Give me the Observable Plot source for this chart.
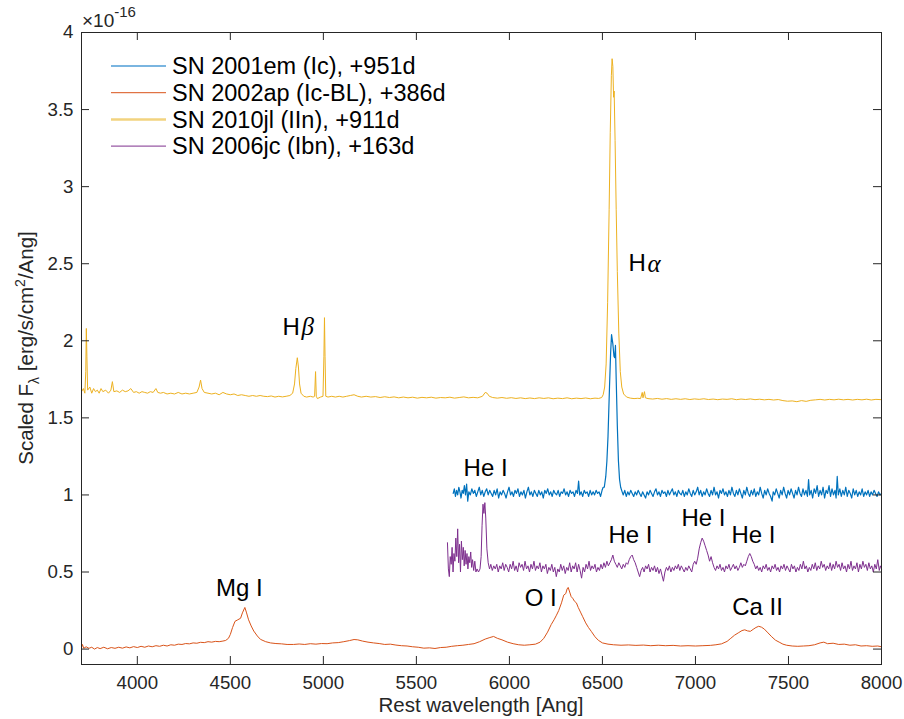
<!DOCTYPE html>
<html><head><meta charset="utf-8">
<script src="https://cdn.jsdelivr.net/npm/d3@7"></script>
<script src="https://cdn.jsdelivr.net/npm/@observablehq/plot@0.6"></script>
<style>body{margin:0;background:#fff;}#chart{width:904px;height:719px;}</style>
</head><body><div id="chart"></div>
<script>
// ---------- data ----------
const xTicks = [4000, 4500, 5000, 5500, 6000, 6500, 7000, 7500, 8000];
const yTicks = [0, 0.5, 1, 1.5, 2, 2.5, 3, 3.5, 4];
const seriesNames = ["SN 2001em (Ic), +951d", "SN 2002ap (Ic-BL), +386d", "SN 2010jl (IIn), +911d", "SN 2006jc (Ibn), +163d"];
const seriesColors = ["#0072BD", "#D95319", "#EDB120", "#7E2F8E"];

// SN 2001em (Ic), +951d  [wavelength, scaled flux]
const sn2001em = [[5698,1.01],[5704,1.04],[5710,0.99],[5716,1.03],[5722,1.0],[5728,1.05],[5734,1.02],[5740,0.98],[5746,1.03],[5752,1.01],[5758,1.06],[5764,1.0],[5770,1.07],[5776,0.96],[5782,1.02],[5790,1.0],[5798,1.04],[5806,1.01],[5814,1.03],[5822,0.99],[5830,1.02],[5838,1.05],[5846,1.0],[5854,1.03],[5862,0.99],[5870,1.02],[5878,1.04],[5886,1.0],[5894,1.03],[5902,1.01],[5910,0.99],[5918,1.03],[5926,1.0],[5934,1.04],[5942,0.98],[5950,1.02],[5958,1.0],[5966,1.03],[5974,1.01],[5982,0.98],[5990,1.02],[5998,1.05],[6006,1.0],[6014,1.02],[6022,0.99],[6030,1.03],[6038,1.01],[6046,1.04],[6054,0.99],[6062,1.02],[6070,1.0],[6078,1.03],[6086,0.98],[6094,1.02],[6102,1.05],[6110,1.0],[6118,1.02],[6126,0.99],[6134,1.03],[6142,1.01],[6150,0.99],[6158,1.03],[6166,1.0],[6174,1.02],[6182,0.98],[6190,1.03],[6198,1.01],[6206,1.04],[6214,1.0],[6222,1.02],[6230,0.99],[6238,1.03],[6246,1.01],[6254,1.0],[6262,1.03],[6270,0.99],[6278,1.02],[6286,1.01],[6294,1.04],[6302,1.0],[6310,1.02],[6318,0.99],[6326,1.03],[6334,1.01],[6342,1.02],[6350,0.99],[6358,1.03],[6366,1.01],[6372,1.09],[6378,1.0],[6386,1.02],[6394,0.99],[6402,1.03],[6410,1.01],[6418,1.02],[6426,0.99],[6434,1.03],[6442,1.0],[6450,1.02],[6458,1.0],[6466,1.03],[6474,1.01],[6482,1.02],[6490,0.99],[6498,1.03],[6504,1.05],[6510,1.05],[6518,1.12],[6524,1.22],[6530,1.38],[6538,1.7],[6544,1.92],[6549,2.04],[6556,1.98],[6562,1.9],[6566,1.89],[6570,1.97],[6574,1.75],[6580,1.45],[6586,1.22],[6592,1.1],[6598,1.05],[6606,1.02],[6612,1.0],[6620,1.03],[6628,0.99],[6636,1.02],[6644,1.0],[6652,1.03],[6660,1.01],[6668,0.99],[6676,1.02],[6684,1.0],[6692,1.03],[6700,1.01],[6708,0.99],[6716,1.02],[6724,1.0],[6732,0.98],[6740,1.02],[6748,1.0],[6756,1.03],[6764,1.01],[6772,0.99],[6780,1.02],[6788,1.04],[6796,1.0],[6804,1.02],[6812,0.99],[6820,1.03],[6828,1.01],[6836,1.02],[6844,0.99],[6852,1.03],[6860,1.0],[6868,1.02],[6876,1.04],[6884,1.0],[6892,1.02],[6900,0.99],[6908,1.03],[6916,1.01],[6924,1.0],[6932,1.03],[6940,0.99],[6948,1.02],[6956,1.0],[6964,1.04],[6972,1.01],[6980,0.99],[6988,1.03],[6996,1.0],[7004,1.02],[7012,1.05],[7020,1.0],[7028,1.03],[7036,0.99],[7044,1.02],[7052,1.0],[7060,1.04],[7068,1.01],[7076,0.99],[7084,1.03],[7092,1.0],[7100,1.05],[7108,1.0],[7116,1.02],[7124,0.98],[7132,1.03],[7140,1.01],[7148,1.04],[7156,1.0],[7164,1.02],[7172,0.99],[7180,1.03],[7188,1.0],[7196,1.05],[7204,1.01],[7212,0.99],[7220,1.03],[7228,1.0],[7236,1.04],[7244,1.01],[7252,0.98],[7260,1.03],[7268,1.0],[7276,1.05],[7284,1.01],[7292,0.99],[7300,1.03],[7308,1.0],[7316,1.04],[7324,0.99],[7332,1.02],[7340,1.0],[7348,1.05],[7356,1.01],[7364,0.98],[7372,1.03],[7380,1.0],[7388,1.04],[7396,1.01],[7404,0.99],[7412,0.96],[7418,1.02],[7426,1.0],[7434,1.04],[7442,1.01],[7450,0.98],[7458,1.03],[7466,1.0],[7474,1.05],[7482,1.01],[7490,0.98],[7498,1.03],[7506,1.0],[7514,1.04],[7522,1.01],[7530,0.98],[7538,1.03],[7546,1.0],[7554,1.05],[7562,1.01],[7570,0.99],[7578,1.04],[7586,1.0],[7594,1.03],[7602,0.99],[7608,1.1],[7614,1.0],[7622,1.03],[7630,0.98],[7638,1.04],[7646,1.01],[7654,1.06],[7662,0.99],[7670,1.03],[7678,1.0],[7686,1.05],[7694,0.98],[7702,1.03],[7710,1.01],[7718,1.06],[7726,0.99],[7734,1.04],[7742,1.0],[7750,1.03],[7756,0.98],[7762,1.12],[7768,1.0],[7776,1.04],[7784,0.99],[7792,1.03],[7800,1.0],[7808,1.05],[7816,0.99],[7824,1.03],[7832,1.01],[7840,0.98],[7848,1.04],[7856,1.0],[7864,1.03],[7872,0.99],[7880,1.02],[7888,1.0],[7896,1.04],[7904,0.99],[7912,1.02],[7920,1.0],[7928,1.03],[7936,0.99],[7944,1.02],[7952,1.0],[7960,1.03],[7968,1.01],[7976,0.99],[7984,1.02],[7992,1.0],[8000,1.01]];

// SN 2002ap (Ic-BL), +386d
const sn2002ap = [[3700,0.01],[3705,0.03],[3712,0.005],[3725,0.015],[3740,0.005],[3755,0.012],[3770,0.0],[3785,0.01],[3800,0.003],[3820,0.012],[3840,0.002],[3860,0.01],[3880,0.005],[3900,0.012],[3920,0.006],[3940,0.014],[3960,0.008],[3980,0.016],[4000,0.01],[4020,0.018],[4040,0.012],[4060,0.02],[4080,0.015],[4100,0.022],[4120,0.018],[4140,0.025],[4160,0.02],[4180,0.028],[4200,0.025],[4220,0.032],[4240,0.03],[4260,0.036],[4280,0.034],[4300,0.04],[4320,0.038],[4340,0.044],[4360,0.042],[4380,0.048],[4400,0.045],[4420,0.05],[4440,0.048],[4460,0.052],[4475,0.056],[4490,0.07],[4500,0.095],[4512,0.14],[4525,0.18],[4540,0.19],[4555,0.2],[4565,0.235],[4578,0.27],[4586,0.24],[4598,0.19],[4612,0.15],[4626,0.117],[4645,0.085],[4662,0.063],[4690,0.048],[4716,0.04],[4745,0.036],[4775,0.034],[4805,0.03],[4840,0.03],[4870,0.033],[4900,0.03],[4930,0.035],[4960,0.032],[4990,0.036],[5020,0.035],[5050,0.04],[5080,0.042],[5110,0.048],[5140,0.055],[5165,0.062],[5185,0.06],[5210,0.052],[5240,0.045],[5270,0.04],[5300,0.036],[5330,0.03],[5360,0.032],[5390,0.026],[5420,0.022],[5450,0.02],[5480,0.015],[5510,0.012],[5540,0.006],[5570,0.008],[5600,0.004],[5630,0.01],[5660,0.012],[5690,0.018],[5720,0.022],[5750,0.025],[5780,0.03],[5810,0.035],[5840,0.048],[5870,0.065],[5895,0.075],[5915,0.082],[5935,0.07],[5960,0.06],[5990,0.045],[6020,0.035],[6050,0.028],[6080,0.025],[6110,0.028],[6140,0.032],[6165,0.045],[6185,0.07],[6205,0.11],[6225,0.16],[6240,0.19],[6253,0.22],[6265,0.25],[6280,0.3],[6292,0.35],[6303,0.36],[6310,0.39],[6316,0.4],[6324,0.37],[6332,0.34],[6340,0.33],[6350,0.31],[6360,0.3],[6370,0.27],[6382,0.24],[6394,0.21],[6410,0.17],[6425,0.14],[6440,0.115],[6460,0.08],[6478,0.057],[6500,0.04],[6530,0.032],[6560,0.028],[6600,0.025],[6640,0.027],[6680,0.024],[6720,0.026],[6760,0.022],[6800,0.025],[6840,0.022],[6880,0.024],[6920,0.02],[6960,0.022],[7000,0.02],[7040,0.022],[7080,0.024],[7110,0.028],[7140,0.034],[7170,0.05],[7190,0.07],[7210,0.09],[7230,0.105],[7250,0.12],[7265,0.125],[7280,0.118],[7295,0.115],[7310,0.128],[7325,0.14],[7340,0.148],[7355,0.142],[7370,0.13],[7390,0.105],[7410,0.08],[7430,0.058],[7450,0.045],[7470,0.032],[7490,0.025],[7520,0.02],[7550,0.018],[7580,0.02],[7610,0.022],[7640,0.028],[7670,0.04],[7690,0.045],[7710,0.035],[7740,0.038],[7770,0.03],[7800,0.032],[7830,0.025],[7860,0.028],[7890,0.02],[7920,0.022],[7950,0.018],[7980,0.02],[8000,0.015]];

// SN 2010jl (IIn), +911d
const sn2010jl = [[3700,1.67],[3710,1.69],[3718,1.66],[3723,1.8],[3726,2.08],[3729,1.9],[3733,1.68],[3745,1.7],[3755,1.66],[3765,1.69],[3775,1.67],[3785,1.68],[3795,1.66],[3805,1.69],[3815,1.67],[3830,1.68],[3845,1.66],[3858,1.68],[3866,1.735],[3874,1.67],[3890,1.675],[3905,1.665],[3920,1.68],[3935,1.67],[3950,1.675],[3965,1.69],[3980,1.665],[3995,1.67],[4010,1.66],[4025,1.67],[4040,1.665],[4055,1.66],[4070,1.67],[4085,1.665],[4100,1.69],[4110,1.665],[4125,1.66],[4140,1.665],[4160,1.655],[4180,1.66],[4200,1.655],[4220,1.665],[4240,1.655],[4260,1.66],[4280,1.655],[4300,1.66],[4320,1.665],[4332,1.7],[4340,1.745],[4348,1.69],[4360,1.665],[4380,1.66],[4400,1.655],[4420,1.66],[4440,1.65],[4460,1.665],[4480,1.655],[4500,1.65],[4520,1.655],[4540,1.645],[4560,1.65],[4580,1.645],[4600,1.64],[4620,1.645],[4640,1.64],[4660,1.645],[4680,1.64],[4700,1.638],[4720,1.642],[4740,1.635],[4760,1.64],[4780,1.636],[4800,1.64],[4820,1.645],[4835,1.66],[4845,1.72],[4852,1.82],[4860,1.89],[4866,1.83],[4872,1.72],[4880,1.66],[4895,1.64],[4910,1.635],[4930,1.64],[4945,1.635],[4953,1.64],[4958,1.8],[4962,1.64],[4968,1.625],[4985,1.635],[4998,1.64],[5003,1.9],[5006,2.15],[5009,1.9],[5013,1.64],[5025,1.635],[5045,1.64],[5065,1.635],[5085,1.64],[5105,1.635],[5125,1.64],[5145,1.645],[5165,1.65],[5185,1.64],[5205,1.635],[5230,1.64],[5255,1.635],[5280,1.638],[5305,1.632],[5330,1.637],[5355,1.632],[5380,1.636],[5405,1.63],[5430,1.635],[5455,1.63],[5480,1.634],[5505,1.628],[5530,1.633],[5555,1.63],[5580,1.634],[5605,1.628],[5630,1.632],[5655,1.63],[5680,1.634],[5705,1.628],[5730,1.632],[5755,1.636],[5780,1.63],[5805,1.633],[5830,1.63],[5855,1.64],[5870,1.665],[5880,1.66],[5892,1.64],[5910,1.632],[5935,1.628],[5960,1.632],[5985,1.627],[6010,1.631],[6035,1.626],[6060,1.63],[6085,1.625],[6110,1.629],[6135,1.625],[6160,1.63],[6185,1.626],[6210,1.63],[6235,1.624],[6260,1.628],[6285,1.625],[6310,1.63],[6335,1.624],[6360,1.628],[6385,1.625],[6410,1.629],[6435,1.624],[6460,1.628],[6480,1.626],[6496,1.632],[6504,1.65],[6512,1.7],[6520,1.85],[6528,2.25],[6536,2.85],[6542,3.35],[6548,3.72],[6552,3.83],[6556,3.78],[6560,3.58],[6563,3.62],[6568,3.3],[6574,2.85],[6580,2.45],[6588,2.05],[6596,1.8],[6604,1.7],[6614,1.655],[6630,1.635],[6650,1.628],[6670,1.625],[6690,1.627],[6705,1.625],[6714,1.665],[6718,1.63],[6726,1.67],[6731,1.63],[6745,1.625],[6770,1.622],[6795,1.626],[6820,1.621],[6845,1.625],[6870,1.62],[6895,1.624],[6920,1.62],[6945,1.624],[6970,1.619],[6995,1.623],[7020,1.62],[7045,1.624],[7070,1.619],[7095,1.622],[7120,1.618],[7145,1.622],[7170,1.62],[7195,1.624],[7220,1.618],[7245,1.622],[7270,1.619],[7295,1.623],[7320,1.618],[7345,1.621],[7370,1.617],[7395,1.62],[7420,1.616],[7445,1.619],[7470,1.612],[7495,1.608],[7520,1.61],[7545,1.605],[7570,1.612],[7595,1.607],[7620,1.614],[7645,1.617],[7670,1.62],[7695,1.616],[7720,1.62],[7745,1.617],[7770,1.621],[7795,1.617],[7820,1.62],[7845,1.616],[7870,1.62],[7895,1.617],[7920,1.621],[7945,1.616],[7970,1.62],[8000,1.618]];

// SN 2006jc (Ibn), +163d
const sn2006jc = [[5667,0.69],[5672,0.52],[5677,0.47],[5682,0.6],[5687,0.55],[5692,0.66],[5697,0.5],[5702,0.62],[5707,0.57],[5712,0.72],[5717,0.6],[5722,0.78],[5727,0.56],[5732,0.68],[5737,0.5],[5742,0.7],[5747,0.58],[5752,0.66],[5757,0.54],[5762,0.64],[5767,0.55],[5772,0.62],[5777,0.52],[5782,0.6],[5787,0.56],[5792,0.63],[5797,0.53],[5802,0.58],[5808,0.51],[5814,0.57],[5820,0.5],[5826,0.52],[5834,0.5],[5842,0.52],[5848,0.6],[5853,0.8],[5858,0.94],[5863,0.88],[5868,0.95],[5873,0.85],[5879,0.65],[5886,0.56],[5893,0.52],[5900,0.55],[5908,0.51],[5916,0.54],[5924,0.52],[5932,0.55],[5940,0.5],[5948,0.54],[5956,0.52],[5964,0.56],[5972,0.51],[5980,0.55],[5988,0.53],[5996,0.5],[6004,0.55],[6012,0.52],[6020,0.57],[6028,0.51],[6036,0.54],[6044,0.5],[6052,0.56],[6060,0.53],[6068,0.55],[6076,0.51],[6084,0.57],[6092,0.52],[6100,0.54],[6108,0.5],[6116,0.55],[6124,0.52],[6132,0.57],[6140,0.51],[6148,0.54],[6156,0.52],[6164,0.56],[6172,0.5],[6180,0.54],[6188,0.52],[6196,0.55],[6204,0.49],[6212,0.53],[6220,0.51],[6228,0.55],[6236,0.5],[6244,0.53],[6252,0.47],[6260,0.52],[6268,0.5],[6276,0.55],[6284,0.51],[6292,0.54],[6300,0.49],[6308,0.53],[6316,0.51],[6324,0.56],[6332,0.5],[6340,0.54],[6348,0.52],[6356,0.56],[6364,0.5],[6372,0.55],[6380,0.51],[6388,0.46],[6396,0.53],[6404,0.5],[6412,0.55],[6420,0.52],[6428,0.57],[6436,0.51],[6444,0.54],[6452,0.52],[6460,0.55],[6468,0.5],[6476,0.53],[6484,0.51],[6492,0.55],[6500,0.52],[6508,0.56],[6516,0.53],[6524,0.57],[6532,0.54],[6540,0.56],[6548,0.58],[6556,0.61],[6564,0.57],[6572,0.55],[6580,0.53],[6588,0.56],[6596,0.54],[6604,0.52],[6612,0.55],[6620,0.53],[6628,0.56],[6636,0.55],[6644,0.58],[6652,0.6],[6660,0.61],[6668,0.58],[6676,0.56],[6684,0.53],[6692,0.5],[6700,0.47],[6708,0.51],[6716,0.53],[6724,0.5],[6732,0.54],[6740,0.52],[6748,0.55],[6756,0.5],[6764,0.53],[6772,0.51],[6780,0.54],[6788,0.5],[6796,0.53],[6804,0.49],[6812,0.52],[6820,0.48],[6828,0.44],[6836,0.5],[6844,0.53],[6852,0.51],[6860,0.54],[6868,0.5],[6876,0.53],[6884,0.51],[6892,0.54],[6900,0.52],[6908,0.55],[6916,0.51],[6924,0.54],[6932,0.52],[6940,0.5],[6948,0.53],[6956,0.51],[6964,0.54],[6972,0.52],[6980,0.5],[6988,0.55],[6996,0.57],[7004,0.55],[7012,0.59],[7020,0.65],[7028,0.69],[7036,0.72],[7044,0.7],[7052,0.67],[7060,0.64],[7068,0.61],[7076,0.57],[7084,0.6],[7092,0.56],[7100,0.53],[7108,0.51],[7116,0.54],[7124,0.52],[7132,0.55],[7140,0.51],[7148,0.53],[7156,0.5],[7164,0.54],[7172,0.52],[7180,0.55],[7188,0.51],[7196,0.53],[7204,0.55],[7212,0.52],[7220,0.54],[7228,0.51],[7236,0.53],[7244,0.56],[7252,0.53],[7260,0.55],[7268,0.54],[7276,0.57],[7284,0.6],[7292,0.62],[7300,0.6],[7308,0.57],[7316,0.55],[7324,0.52],[7332,0.54],[7340,0.51],[7348,0.53],[7356,0.5],[7364,0.54],[7372,0.52],[7380,0.55],[7388,0.51],[7396,0.53],[7404,0.5],[7412,0.54],[7420,0.52],[7428,0.55],[7436,0.51],[7444,0.53],[7452,0.5],[7460,0.54],[7468,0.52],[7476,0.55],[7484,0.51],[7492,0.54],[7500,0.52],[7508,0.5],[7516,0.55],[7524,0.52],[7532,0.54],[7540,0.5],[7548,0.53],[7556,0.51],[7564,0.55],[7572,0.52],[7580,0.57],[7588,0.52],[7596,0.54],[7604,0.5],[7612,0.53],[7620,0.51],[7628,0.55],[7636,0.52],[7644,0.56],[7652,0.51],[7660,0.54],[7668,0.52],[7676,0.57],[7684,0.53],[7692,0.55],[7700,0.51],[7708,0.54],[7716,0.52],[7724,0.56],[7732,0.51],[7740,0.55],[7748,0.52],[7756,0.57],[7764,0.53],[7772,0.55],[7780,0.51],[7788,0.56],[7796,0.52],[7804,0.54],[7812,0.5],[7820,0.55],[7828,0.52],[7836,0.57],[7844,0.51],[7852,0.54],[7860,0.52],[7868,0.56],[7876,0.5],[7884,0.55],[7892,0.52],[7900,0.57],[7908,0.53],[7916,0.55],[7924,0.51],[7932,0.56],[7940,0.52],[7948,0.54],[7956,0.5],[7964,0.55],[7972,0.52],[7980,0.58],[7988,0.51],[7994,0.54],[8000,0.52]];

// line identifications (label, wavelength, flux level)
const lineLabels = ["Mg I", "O I", "Ca II", "He I", "He I", "He I", "He I"];
const lineLabelX = [4549, 6168, 7334, 5872, 6651, 7043, 7312];
const lineLabelY = [0.396, 0.331, 0.273, 1.175, 0.74, 0.85, 0.74];
const balmerBase = ["H", "H"];
const balmerGreek = ["α", "β"];
const balmerX = [6640, 4780];
const balmerY = [2.5, 2.09];

// ---------- chart ----------
const W = 904, H = 719, mL = 81, mR = 23, mT = 32, mB = 55;
const innerW = W - mL - mR, innerH = H - mT - mB, tickLen = 8;
const axisColor = "#262626";
const font = "'Liberation Sans', Arial, Helvetica, sans-serif";

const pt = arr => arr.map(([w, f]) => ({w, f}));
const spectra = [sn2001em, sn2002ap, sn2010jl, sn2006jc];
const labels = lineLabels.map((t, i) => ({t, x: lineLabelX[i], y: lineLabelY[i]}));
const balmer = balmerBase.map((t, i) => ({t, g: balmerGreek[i], x: balmerX[i], y: balmerY[i]}));

const plot = Plot.plot({
  width: W, height: H,
  marginLeft: mL, marginRight: mR, marginTop: mT, marginBottom: mB,
  style: {fontFamily: font, background: "#fff", color: axisColor, overflow: "visible"},
  x: {domain: [3700, 8000]},
  y: {domain: [-0.1, 4]},
  marks: [
    Plot.axisX(xTicks, {tickSize: 0, tickPadding: 11, fontSize: 18.7, tickFormat: d => String(d), label: null, fill: axisColor}),
    Plot.axisY(yTicks, {tickSize: 0, tickPadding: 8, fontSize: 18.7, tickFormat: d => String(d), label: null, fill: axisColor}),
    ...spectra.map((s, i) => Plot.line(pt(s), {x: "w", y: "f", stroke: seriesColors[i], strokeWidth: i === 0 ? 1.2 : 1, curve: "linear"})),
    Plot.tickX(xTicks, {x: d => d, insetTop: innerH - tickLen, stroke: axisColor}),
    Plot.tickX(xTicks, {x: d => d, insetBottom: innerH - tickLen, stroke: axisColor}),
    Plot.tickY(yTicks, {y: d => d, insetRight: innerW - tickLen, stroke: axisColor}),
    Plot.tickY(yTicks, {y: d => d, insetLeft: innerW - tickLen, stroke: axisColor}),
    Plot.frame({stroke: axisColor, strokeWidth: 1}),
    Plot.text(labels, {x: "x", y: "y", text: "t", fontSize: 24, fill: "#000", textAnchor: "middle"}),
    Plot.text(balmer, {x: "x", y: "y", text: "t", fontSize: 24, fill: "#000", textAnchor: "start"}),
    Plot.text(balmer, {x: "x", y: "y", text: "g", fontSize: 25, fill: "#000", textAnchor: "start", dx: 19, fontStyle: "italic", fontFamily: "'Liberation Serif', 'DejaVu Serif', serif"})
  ]
});

const svg = d3.select(plot);
// legend
const leg = svg.append("g").attr("font-family", font).attr("font-size", 23.5).attr("text-anchor", "start");
const legStyles = [{c: "#7ab5e0", w: 2}, {c: "#D95319", w: 1}, {c: "#F2D37F", w: 2.5}, {c: "#7E2F8E", w: 1}];
seriesNames.forEach((name, i) => {
  const y = 66 + i * 26.7;
  leg.append("line").attr("x1", 111).attr("x2", 166).attr("y1", y).attr("y2", y)
    .attr("stroke", legStyles[i].c).attr("stroke-width", legStyles[i].w);
  leg.append("text").attr("x", 172).attr("y", y).attr("dy", "0.35em").attr("text-anchor", "start").attr("fill", "#000").text(name);
});
// x label
svg.append("text").attr("x", mL + innerW / 2).attr("y", 712).attr("text-anchor", "middle")
  .attr("font-family", font).attr("font-size", 20.5).attr("fill", axisColor).text("Rest wavelength [Ang]");
// y label
const yl = svg.append("text").attr("transform", `translate(33,${mT + innerH / 2}) rotate(-90)`)
  .attr("text-anchor", "middle").attr("font-family", font).attr("font-size", 20.5).attr("fill", axisColor);
yl.append("tspan").text("Scaled F");
yl.append("tspan").attr("font-size", 14).attr("dy", 6).text("λ");
yl.append("tspan").attr("dy", -6).text(" [erg/s/cm");
yl.append("tspan").attr("font-size", 14).attr("dy", -8).text("2");
yl.append("tspan").attr("dy", 8).text("/Ang]");
// exponent
const ex = svg.append("text").attr("x", 82).attr("y", 27).attr("text-anchor", "start")
  .attr("font-family", font).attr("fill", axisColor).attr("font-size", 19);
ex.append("tspan").text("×10");
ex.append("tspan").attr("font-size", 15).attr("dy", -10).text("-16");

document.getElementById("chart").appendChild(plot);
</script>
</body></html>
